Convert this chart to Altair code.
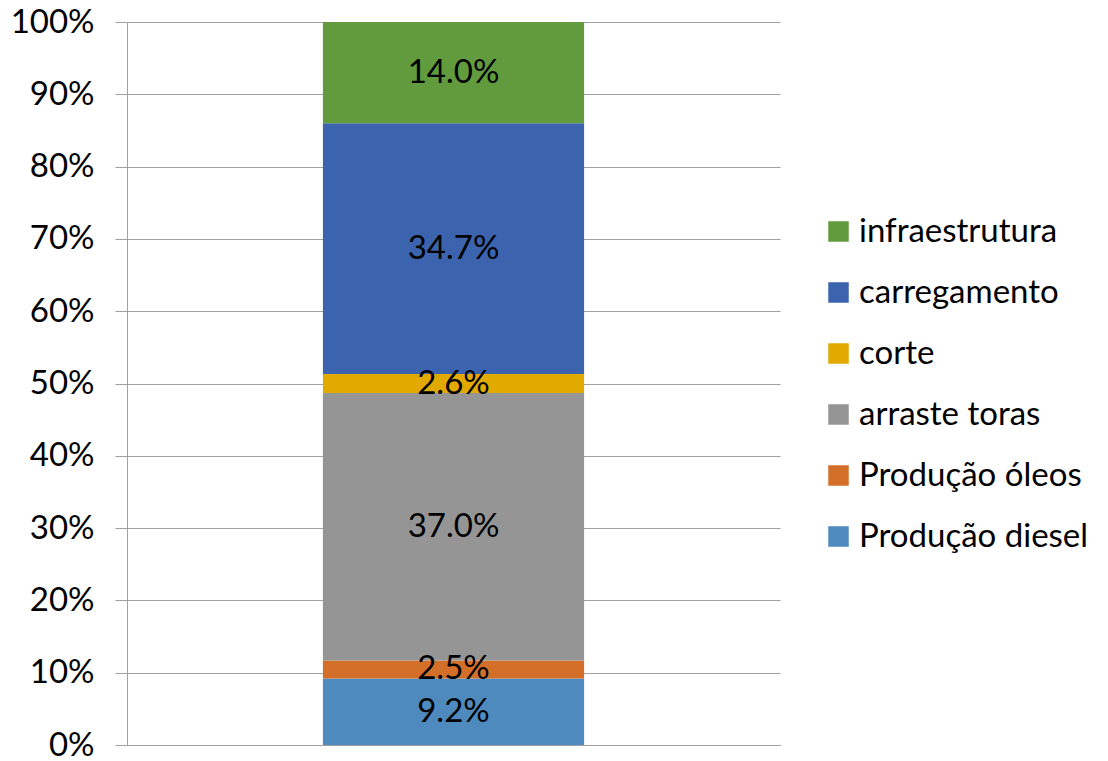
import altair as alt
import pandas as pd

categories = ["Produção diesel", "Produção óleos", "arraste toras", "corte", "carregamento", "infraestrutura"]
values = [9.2, 2.5, 37.0, 2.6, 34.7, 14.0]
labels = ["9.2%", "2.5%", "37.0%", "2.6%", "34.7%", "14.0%"]
colors = ["#4E8ABE", "#D46F2A", "#959595", "#E2AA00", "#3C64AE", "#629B3E"]
y_ticks = [0, 10, 20, 30, 40, 50, 60, 70, 80, 90, 100]

df = pd.DataFrame({
    "cat": categories,
    "value": values,
    "label": labels,
    "ord": list(range(len(categories))),
    "x": ["A"] * len(categories),
})

FONT = "Lato"
FS = 33
legend_domain = categories[::-1]
legend_range = colors[::-1]

base = alt.Chart(df).transform_stack(
    stack="value", groupby=["x"], as_=["v0", "v1"], sort=[alt.SortField("ord", order="ascending")]
).transform_calculate(mid="(datum.v0 + datum.v1) / 2")

xenc = alt.X("x:N", title=None,
             scale=alt.Scale(paddingInner=0.6, paddingOuter=0.3),
             axis=alt.Axis(labels=False, ticks=False, domain=True, domainColor="#A0A0A0", grid=False))

bars = base.mark_bar().encode(
    x=xenc,
    y=alt.Y("v0:Q", title=None,
            scale=alt.Scale(domain=[0, 100], nice=False),
            axis=alt.Axis(values=y_ticks, labelExpr="datum.value + '%'",
                          labelFontSize=FS, labelFont=FONT, labelColor="#000000",
                          labelPadding=21, tickSize=12, tickColor="#A0A0A0",
                          domainColor="#A0A0A0", gridColor="#A0A0A0")),
    y2="v1:Q",
    color=alt.Color("cat:N", scale=alt.Scale(domain=legend_domain, range=legend_range),
                    legend=alt.Legend(title=None, orient="none", legendX=695, legendY=193,
                                      symbolType="square", symbolSize=420, symbolStrokeWidth=0,
                                      symbolOpacity=1,
                                      labelFontSize=FS, labelFont=FONT, labelColor="#000000",
                                      labelOffset=4, rowPadding=27, labelLimit=400)),
)

text = base.mark_text(fontSize=FS, font=FONT, color="#000000").encode(
    x=alt.X("x:N"),
    y=alt.Y("mid:Q"),
    text="label:N",
)

chart = alt.layer(bars, text).properties(
    width=653, height=723,
    autosize=alt.AutoSizeParams(type="none"),
    padding={"left": 119, "top": 14, "right": 320, "bottom": 30},
).configure_view(stroke=None).configure_axis(gridWidth=1)

chart.save("out.html", embed_options={"renderer": "svg", "actions": False})
